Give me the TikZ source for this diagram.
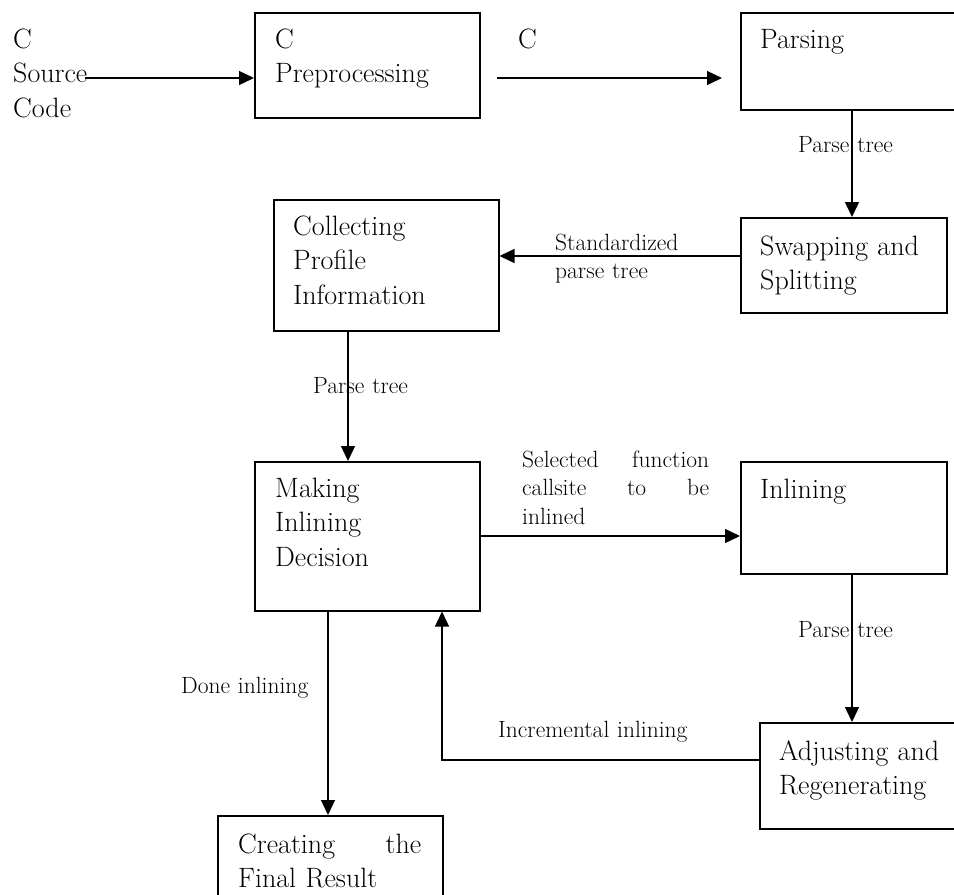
\documentclass[tikz,border=0pt]{standalone}
\usepackage{fontspec}
\usetikzlibrary{arrows.meta}

\newcommand{\boxfont}{\fontsize{28}{34.5}\selectfont}
\newcommand{\lblfont}{\fontsize{23.5}{28.5}\selectfont}

\tikzset{
  box/.style={draw, line width=1.5pt, anchor=north west, inner sep=0pt},
  boxtext/.style={anchor=base west, inner sep=0pt, align=left, text width=200pt, font=\boxfont},
  lbl/.style={anchor=base west, inner sep=0pt, align=left, text width=210pt, font=\lblfont},
  arr/.style={line width=1.3pt, -{Triangle[length=15pt,width=14pt]}}
}

\begin{document}
\begin{tikzpicture}[x=1pt, y=-1pt]
  \useasboundingbox (0,0) rectangle (954,895);

  % process boxes
  \node[box, minimum width=225pt, minimum height=105pt] (pre)    at (254,12)  {};
  \node[box, minimum width=220pt, minimum height=97pt]  (parse)  at (740,12)  {};
  \node[box, minimum width=206pt, minimum height=95pt]  (swap)   at (740,217) {};
  \node[box, minimum width=225pt, minimum height=131pt] (coll)   at (273,199) {};
  \node[box, minimum width=225pt, minimum height=149pt] (make)   at (254,461) {};
  \node[box, minimum width=206pt, minimum height=112pt] (inl)    at (740,461) {};
  \node[box, minimum width=206pt, minimum height=106pt] (adj)    at (759,722) {};
  \node[box, minimum width=225pt, minimum height=100pt] (create) at (217,815) {};

  % box captions
  \node[boxtext, text width=100pt] (src) at (13,48) {C\\Source\\Code};
  \node[boxtext] (pre-t)    at (275,48)  {C\\Preprocessing};
  \node[boxtext] (parse-t)  at (760,48)  {Parsing};
  \node[boxtext] (swap-t)   at (760,255) {Swapping and\\Splitting};
  \node[boxtext] (coll-t)   at (293,235) {Collecting\\Profile\\Information};
  \node[boxtext] (make-t)   at (275,497) {Making\\Inlining\\Decision};
  \node[boxtext] (inl-t)    at (760,498) {Inlining};
  \node[boxtext] (adj-t)    at (779,760) {Adjusting and\\Regenerating};
  \node[boxtext, text width=183pt] (create-t) at (238,853) {Creating\hfill the\\Final Result};

  % connector labels
  \node[boxtext, text width=40pt] (l-c) at (518,48) {C};
  \node[lbl] (l-pt1)       at (798,152) {Parse tree};
  \node[lbl] (l-std)       at (555,250) {Standardized\\parse tree};
  \node[lbl] (l-pt2)       at (313,393) {Parse tree};
  \node[lbl, text width=187pt] (l-sel) at (522,467) {Selected\hfill function\\callsite\hfill to\hfill be\\inlined};
  \node[lbl] (l-pt3)       at (798,637) {Parse tree};
  \node[lbl] (l-done)      at (181,693) {Done inlining};
  \node[lbl] (l-inc)       at (498,737) {Incremental inlining};

  % routing points
  \coordinate (srcout) at (85,78);
  \coordinate (cout)   at (497,78);
  \coordinate (cin)    at (722,78);
  \coordinate (colR)   at (852,0);
  \coordinate (rowStd) at (0,256);
  \coordinate (colP)   at (348,0);
  \coordinate (rowSel) at (0,536);
  \coordinate (colD)   at (328,0);
  \coordinate (colI)   at (442,0);
  \coordinate (rowI)   at (0,760);

  % connectors
  \draw[arr] (srcout) -- (srcout -| pre.west);
  \draw[arr] (cout) -- (cin);
  \draw[arr] (parse.south -| colR) -- (swap.north -| colR);
  \draw[arr] (swap.west |- rowStd) -- (coll.east |- rowStd);
  \draw[arr] (coll.south -| colP) -- (make.north -| colP);
  \draw[arr] (make.east |- rowSel) -- (inl.west |- rowSel);
  \draw[arr] (inl.south -| colR) -- (adj.north -| colR);
  \draw[arr] (adj.west |- rowI) -| (make.south -| colI);
  \draw[arr] (make.south -| colD) -- (create.north -| colD);
\end{tikzpicture}
\end{document}
